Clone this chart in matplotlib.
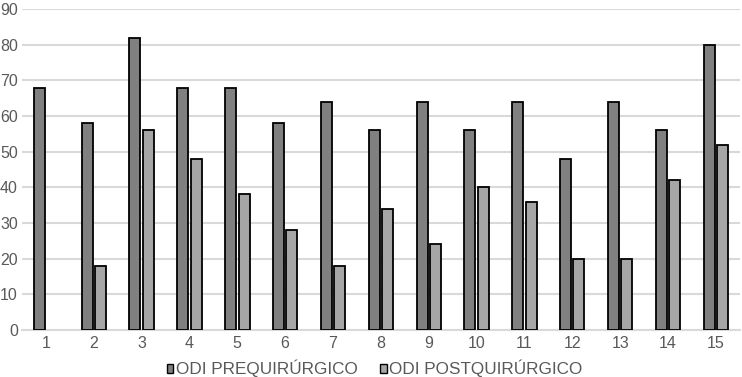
import numpy as np
from matplotlib import pyplot as plt
from matplotlib.patches import Patch

plt.rcParams["font.family"] = ["Liberation Sans", "DejaVu Sans"]

categories = [str(i) for i in range(1, 16)]
odi_pre = [68, 58, 82, 68, 68, 58, 64, 56, 64, 56, 64, 48, 64, 56, 80]
odi_post = [np.nan, 18, 56, 48, 38, 28, 18, 34, 24, 40, 36, 20, 20, 42, 52]
labels = ["ODI PREQUIRÚRGICO", "ODI POSTQUIRÚRGICO"]
colors = ["#808080", "#a6a6a6"]

fig = plt.figure(figsize=(7.42, 3.77), dpi=100)
ax = fig.add_axes([0.0296, 0.1247, 0.9674, 0.8513])

x = np.arange(len(categories))
w = 0.23
ax.bar(x - 0.14, odi_pre, w, color=colors[0], edgecolor="black", linewidth=1.3, zorder=3)
ax.bar(x + 0.14, odi_post, w, color=colors[1], edgecolor="black", linewidth=1.3, zorder=3)

ax.set_xlim(-0.5, len(categories) - 0.5)
ax.set_ylim(0, 90)
ax.set_yticks(range(0, 91, 10))
ax.set_xticks(x)
ax.set_xticklabels(categories)
ax.yaxis.grid(True, color="#d9d9d9", linewidth=1.5, zorder=0)
ax.set_axisbelow(True)
for s in ["top", "right", "left"]:
    ax.spines[s].set_visible(False)
ax.spines["bottom"].set_color("#d9d9d9")
ax.spines["bottom"].set_linewidth(1.5)
ax.tick_params(axis="both", length=0, labelsize=11.5, colors="#595959")
ax.tick_params(axis="y", pad=3)
ax.tick_params(axis="x", pad=4)

handles = [Patch(facecolor=c, edgecolor="black", linewidth=1) for c in colors]
fig.legend(handles, labels, loc="center", bbox_to_anchor=(0.505, 0.022), ncol=2,
           frameon=False, fontsize=12.3, handlelength=0.4, handleheight=0.4,
           handletextpad=0.15, columnspacing=1.3, labelcolor="#595959")

fig.savefig("out.png", dpi=100)
